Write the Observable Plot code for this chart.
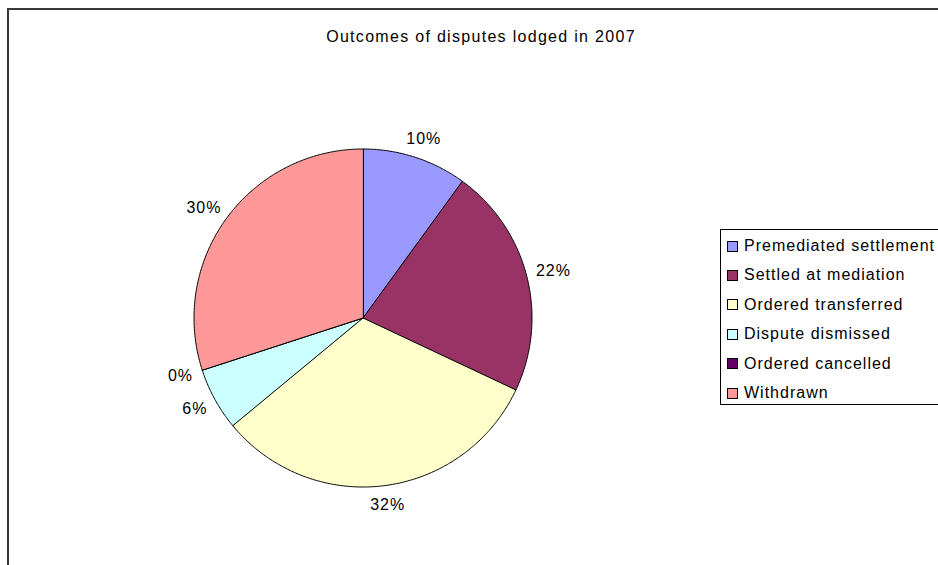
<!DOCTYPE html>
<html>
<head>
<meta charset="utf-8">
<script src="https://cdn.jsdelivr.net/npm/d3@7"></script>
<script src="https://cdn.jsdelivr.net/npm/@observablehq/plot@0.6"></script>
<style>
  html, body { margin: 0; padding: 0; background: #fff; }
  body { width: 938px; height: 565px; overflow: hidden; position: relative; font-family: "Liberation Sans", Arial, sans-serif; }
  #chart { position: absolute; left: 0; top: 0; }
  #chart svg { max-width: none; }
  #frame { position: absolute; left: 7px; top: 8px; width: 1200px; height: 1200px;
           border-top: 2px solid #3a3a3a; border-left: 2px solid #3a3a3a; box-sizing: border-box; }
  #title { position: absolute; left: 0; top: 27px; width: 962px; text-align: center;
           font-size: 16px; line-height: 20px; letter-spacing: 1.3px; color: #000; }
  #legend { position: absolute; left: 720px; top: 229px; width: 400px; height: 174px;
            border: 1px solid #000; background: #fff; box-sizing: content-box; }
  .row { position: absolute; left: 0; height: 20px; display: flex; align-items: center;
         font-size: 16px; letter-spacing: 1px; white-space: nowrap; }
  .sw { width: 9px; height: 9px; border: 1px solid #000; margin-left: 6px; margin-right: 6px; }
</style>
</head>
<body>
<div id="chart"></div>
<div id="frame"></div>
<div id="title"></div>
<div id="legend"></div>
<script>
const title = "Outcomes of disputes lodged in 2007";
const categories = ["Premediated settlement", "Settled at mediation", "Ordered transferred", "Dispute dismissed", "Ordered cancelled", "Withdrawn"];
const values = [10, 22, 32, 6, 0, 30];
const labels = ["10%", "22%", "32%", "6%", "0%", "30%"];
const colors = ["#9999FF", "#993366", "#FFFFCC", "#CCFFFF", "#660066", "#FF9999"];

// geometry helpers (unit circle, clockwise from 12 o'clock, y downward)
const R = 169;            // pie radius in px
const S = 240 / R;        // half-size of the fitted planar domain
const arcs = d3.pie().sort(null).startAngle(0).endAngle(2 * Math.PI)(values);
const pt = a => [Math.sin(a), -Math.cos(a)];

const slices = arcs.map((a, i) => {
  const n = Math.max(2, Math.ceil((a.endAngle - a.startAngle) / (Math.PI / 360)));
  const ring = [[0, 0]];
  for (let k = 0; k <= n; k++) ring.push(pt(a.startAngle + (a.endAngle - a.startAngle) * k / n));
  ring.push([0, 0]);
  return {type: "Feature", properties: {category: categories[i]}, geometry: {type: "Polygon", coordinates: [ring]}};
});

const labelData = arcs.map((a, i) => {
  const m = (a.startAngle + a.endAngle) / 2;
  const [ux, uy] = pt(m);
  const halfW = ((labels[i].length - 1) * 9.4 + 14.5) / 2;
  const halfH = 8;
  const D = 180;
  return {
    x: (ux * D + ux * halfW) / R,
    y: (uy * D + uy * halfH) / R,
    text: labels[i]
  };
});

const domain = {type: "Polygon", coordinates: [[[-S, -S], [S, -S], [S, S], [-S, S], [-S, -S]]]};

const chart = Plot.plot({
  width: 938,
  height: 565,
  marginLeft: 362.5 - 240,
  marginRight: 938 - 362.5 - 240,
  marginTop: 317.5 - 240,
  marginBottom: 565 - 317.5 - 240,
  style: {fontFamily: "Liberation Sans, Arial, sans-serif", fontSize: "16px", background: "transparent"},
  projection: {type: "identity", domain},
  color: {domain: categories, range: colors},
  marks: [
    Plot.geo(slices, {fill: d => d.properties.category, stroke: "#000", strokeWidth: 1}),
    Plot.text(labelData, {x: "x", y: "y", text: "text", fill: "#000", fontSize: 16})
  ]
});
document.getElementById("chart").appendChild(chart);
chart.querySelectorAll("text").forEach(t => t.style.letterSpacing = "1px");

document.getElementById("title").textContent = title;
const legend = document.getElementById("legend");
categories.forEach((c, i) => {
  const row = document.createElement("div");
  row.className = "row";
  row.style.top = (6 + i * 29.4) + "px";
  const sw = document.createElement("div");
  sw.className = "sw";
  sw.style.background = colors[i];
  const tx = document.createElement("span");
  tx.textContent = c;
  row.appendChild(sw);
  row.appendChild(tx);
  legend.appendChild(row);
});
</script>
</body>
</html>
